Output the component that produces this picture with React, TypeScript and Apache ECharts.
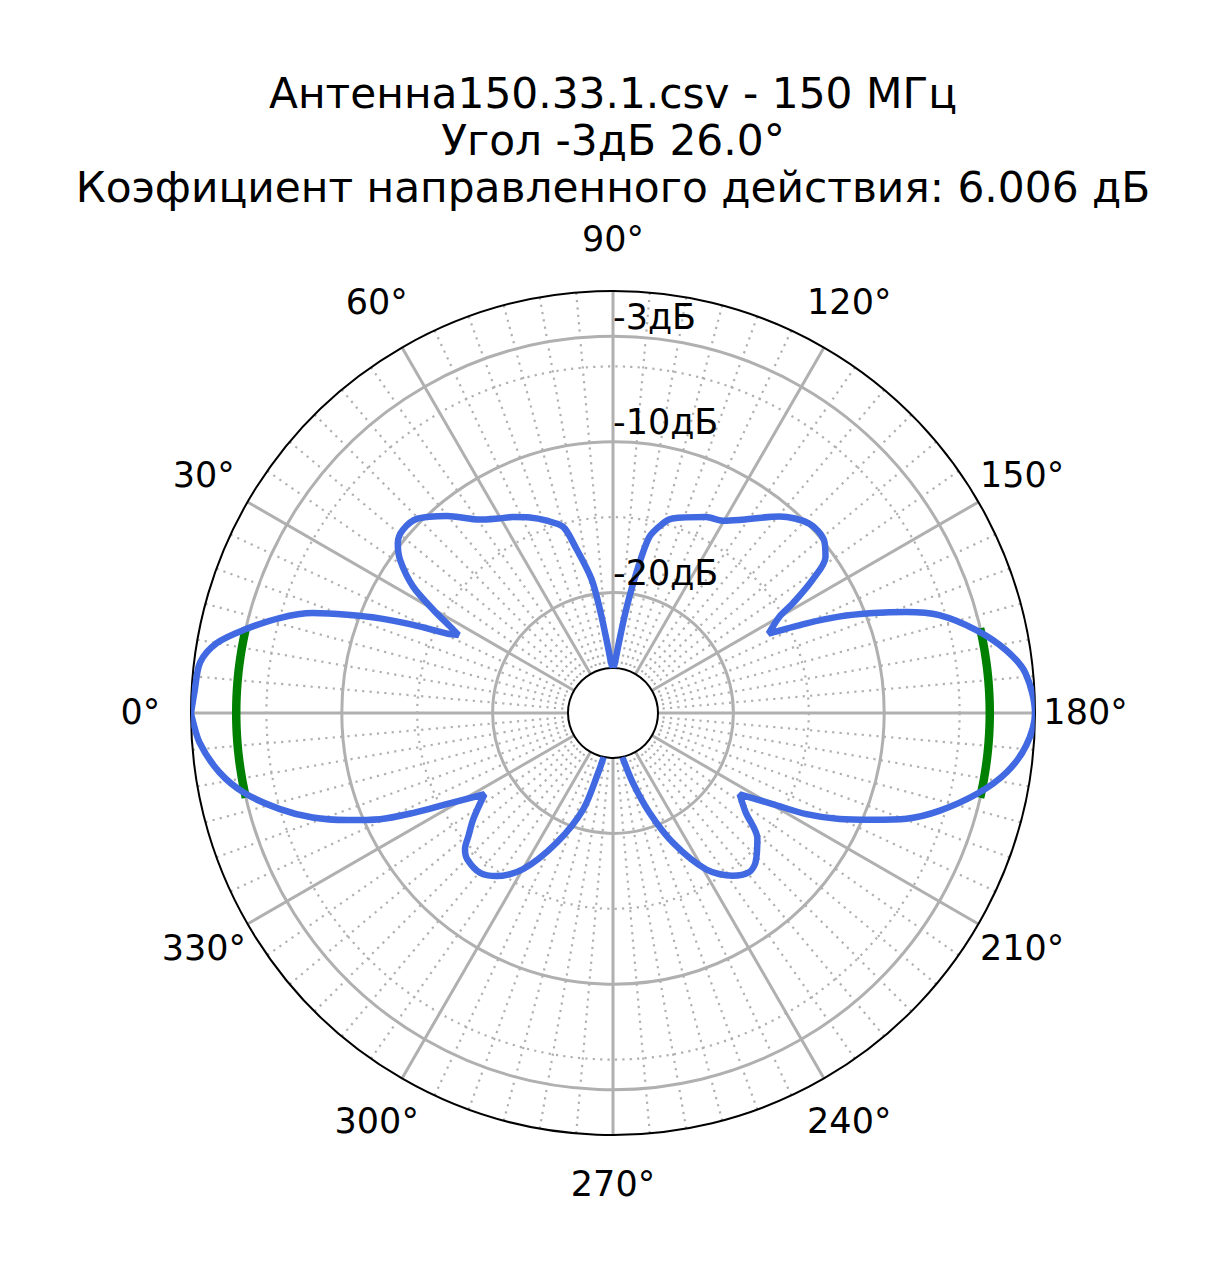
import React, { useEffect, useRef } from "react";
import * as echarts from "echarts";

const FONT = "DejaVu Sans";

const titleLines = [
  "Антенна150.33.1.csv - 150 МГц",
  "Угол -3дБ 26.0°",
  "Коэфициент направленного действия: 6.006 дБ",
];

// Pattern: angle (deg) and level (dB); null = below the inner limit
const patternAngles = [
  0, 3, 7, 10, 12.7, 15.9, 18.4, 20.3, 22.1, 23.8, 25.6, 26.8, 27.9, 29.8, 32.3, 35.7, 38.3, 41.1,
  44.8, 49.9, 55.4, 59.4, 63, 67, 71, 75, 77.1, 80.9, 83, 85.5, 88, 90, 92, 94.5, 97, 99.1, 101.6,
  104.7, 107, 115.4, 119.7, 123.1, 130.3, 136, 140.7, 143.7, 146.3, 148.6, 149.9, 153, 155.1, 156.9,
  159, 161, 163.3, 167.1, 170.9, 174.5, 180, 184.5, 188.6, 192.4, 196.7, 199.8, 202.4, 205.1, 207.6,
  209.7, 212.7, 216.8, 221, 226.3, 229.5, 233.7, 239.2, 245.2, 250, 254.2, 258, 270, 282, 283.9,
  287.2, 293.5, 299.9, 305.5, 309.8, 315, 317.4, 319.6, 322.8, 327.7, 331.3, 333.4, 335.5, 338.1,
  340.8, 343.9, 347.7, 351.4, 355.9, 360,
];
const patternDb: (number | null)[] = [
  0, -0.2, -0.4, -1.3, -2.9, -5.0, -7.0, -9.2, -11.3, -13.5, -15.8, -16.5, -15.8, -14.3, -12.3, -10.6,
  -9.8, -9.5, -9.7, -10.9, -12.4, -13.0, -13.4, -13.9, -14.5, -15.2, -16.6, -19.0, -21.3, -23.5, -24.7,
  -25, -24.7, -23.5, -21.3, -19.0, -16.1, -15.0, -14.5, -13.6, -13.3, -12.7, -10.9, -9.9, -9.9, -10.5,
  -12.1, -14.0, -15.2, -16.4, -13.9, -11.7, -9.5, -7.4, -5.4, -3.3, -1.6, -0.5, 0, -0.5, -1.6, -3.2,
  -5.4, -7.3, -9.4, -11.4, -13.5, -15.8, -18.0, -17.0, -15.3, -14.3, -14.1, -14.6, -15.9, -18.5, -21.0,
  -23.2, -25, null, -25, -23.9, -21.3, -18.6, -16.05, -14.7, -14.2, -14.3, -14.65, -15.4, -16.35,
  -17.9, -15.4, -13.2, -11.0, -8.95, -6.9, -5.0, -3.0, -1.6, -0.5, 0,
];

// Half-power beam (-3 dB level, 26.0° wide) around both main lobes
const halfPowerLevel = -3;
const beamWidth = 26;
const beamCenters = [0, 180];

// Axes
const radiusMin = -25;
const radiusMax = 0;
const angleTicks = [0, 30, 60, 90, 120, 150, 180, 210, 240, 270, 300, 330];
const angleTickLabels = ["0°", "30°", "60°", "90°", "120°", "150°", "180°", "210°", "240°", "270°", "300°", "330°"];
const radialTicks = [-3, -10, -20];
const radialTickLabels = ["-3дБ", "-10дБ", "-20дБ"];
const dottedRings = [-5, -15];

const GRID = "#b0b0b0";
const LABEL_R = 3.35; // label ring just outside the plot (in dB units)

function App() {
  const ref = useRef<HTMLDivElement>(null);
  useEffect(() => {
    if (!ref.current) return;
    const chart = echarts.init(ref.current, undefined, { renderer: "svg" });

    const pattern = patternAngles.map((a, i) => [patternDb[i], a]);

    // constant-level arc of the half-power beam, sampled each degree
    const beam: any[] = [];
    beamCenters.forEach((c, k) => {
      if (k > 0) beam.push([null, c]);
      for (let d = -beamWidth / 2; d <= beamWidth / 2; d += 1) {
        beam.push([halfPowerLevel, (c + d + 360) % 360]);
      }
    });

    const solidColors: string[] = [];
    for (let v = radiusMin; v <= radiusMax; v += 1) solidColors.push(radialTicks.includes(v) ? GRID : "transparent");
    const dottedColors: string[] = [];
    for (let v = radiusMin; v <= radiusMax; v += 5) dottedColors.push(dottedRings.includes(v) ? GRID : "transparent");

    const polarCommon = { center: [613, 713], radius: [45, 422] };
    const dotted = [2.2, 5.2];

    const labelCommon = {
      show: true,
      formatter: "{b}",
      color: "#000",
      fontFamily: FONT,
      fontSize: 35,
      textBorderWidth: 0,
      opacity: 1,
    };

    chart.setOption({
      animation: false,
      backgroundColor: "#ffffff",
      textStyle: { fontFamily: FONT },
      title: {
        text: titleLines.join("\n"),
        left: "center",
        top: 70,
        padding: 0,
        textStyle: { fontFamily: FONT, fontSize: 42.3, fontWeight: "normal", color: "#000", lineHeight: 47 },
      },
      polar: [polarCommon, polarCommon],
      angleAxis: [
        {
          polarIndex: 0,
          type: "value",
          min: 0,
          max: 360,
          interval: 30,
          startAngle: 180,
          clockwise: true,
          axisLine: { show: true, lineStyle: { color: "#000", width: 2 } },
          axisTick: { show: false },
          axisLabel: { show: false },
          splitLine: { show: true, lineStyle: { color: GRID, width: 3 } },
          minorTick: { show: false, splitNumber: 6 },
          minorSplitLine: { show: true, lineStyle: { color: GRID, width: 2.2, type: dotted } },
        },
        {
          polarIndex: 1,
          type: "value",
          min: 0,
          max: 360,
          interval: 30,
          startAngle: 180,
          show: false,
        },
      ],
      radiusAxis: [
        {
          polarIndex: 0,
          type: "value",
          min: radiusMin,
          max: radiusMax,
          interval: 1,
          axisLine: { show: false },
          axisTick: { show: false },
          axisLabel: { show: false },
          splitLine: { show: true, lineStyle: { color: solidColors, width: 3 } },
        },
        {
          polarIndex: 1,
          type: "value",
          min: radiusMin,
          max: radiusMax,
          interval: 5,
          axisLine: { show: false },
          axisTick: { show: false },
          axisLabel: { show: false },
          splitLine: { show: true, lineStyle: { color: dottedColors, width: 2.2, type: dotted } },
        },
      ],
      series: [
        {
          name: "beam",
          type: "line",
          coordinateSystem: "polar",
          polarIndex: 0,
          data: beam,
          showSymbol: false,
          symbol: "none",
          smooth: true,
          connectNulls: false,
          lineStyle: { color: "#008000", width: 8.5 },
          z: 3,
          silent: true,
        },
        {
          name: "pattern",
          type: "line",
          coordinateSystem: "polar",
          polarIndex: 0,
          data: pattern,
          showSymbol: false,
          symbol: "none",
          smooth: 0.3,
          connectNulls: false,
          lineStyle: { color: "#4169e1", width: 6.5 },
          z: 4,
          silent: true,
        },
        {
          name: "angleLabels",
          type: "scatter",
          coordinateSystem: "polar",
          polarIndex: 0,
          clip: false,
          silent: true,
          symbolSize: 0,
          itemStyle: { color: "transparent" },
          data: angleTicks.map((a, i) => ({ name: angleTickLabels[i], value: [LABEL_R, a] })),
          label: { ...labelCommon, position: "inside", align: "center", verticalAlign: "middle", offset: [0, -1.5] },
          z: 5,
        },
        {
          name: "radialLabels",
          type: "scatter",
          coordinateSystem: "polar",
          polarIndex: 0,
          clip: false,
          silent: true,
          symbolSize: 0,
          itemStyle: { color: "transparent" },
          data: radialTicks.map((r, i) => ({ name: radialTickLabels[i], value: [r, 90] })),
          label: { ...labelCommon, position: "inside", align: "left", verticalAlign: "middle", offset: [0, -19.5] },
          z: 5,
        },
      ],
    });
    return () => chart.dispose();
  }, []);
  return (
    <div
      ref={ref}
      style={{ position: "absolute", left: 0, top: 0, width: 1226, height: 1280, background: "#fff" }}
    />
  );
}

export default App;
